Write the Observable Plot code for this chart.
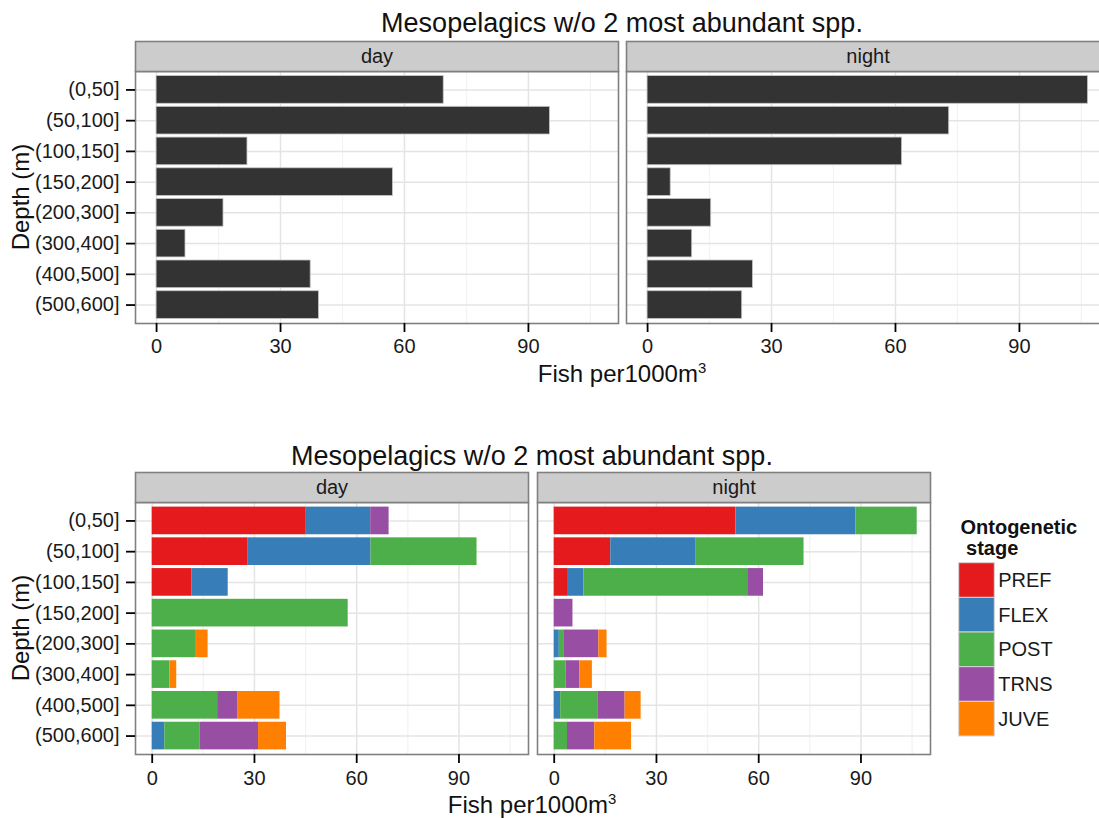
<!DOCTYPE html>
<html>
<head>
<meta charset="utf-8">
<script src="https://cdn.jsdelivr.net/npm/d3@7"></script>
<script src="https://cdn.jsdelivr.net/npm/@observablehq/plot@0.6"></script>
<style>
  html, body { margin: 0; padding: 0; background: #fff; overflow: hidden; }
  #root { position: relative; width: 1099px; height: 818px; overflow: hidden; background: #fff;
          font-family: "Liberation Sans", Arial, sans-serif; color: #111; }
  #root > svg, #root > div { position: absolute; }
  #root > svg { max-width: none !important; }
  .title { font-size: 27px; line-height: 1; white-space: nowrap; transform: translateX(-50%); }
  .xtitle { font-size: 24px; line-height: 1; white-space: nowrap; transform: translateX(-50%); }
  .xtitle sup { font-size: 0.62em; vertical-align: 0.6em; line-height: 0; }
  .ytitle { font-size: 24px; line-height: 1; white-space: nowrap; transform: translate(-50%, -50%) rotate(-90deg); }
</style>
</head>
<body>
<div id="root"></div>
<script>
// Depth bins, day/night periods and ontogenetic stages
const depths = ["(0,50]", "(50,100]", "(100,150]", "(150,200]", "(200,300]", "(300,400]", "(400,500]", "(500,600]"];
const periods = ["day", "night"];
const stages = ["PREF", "FLEX", "POST", "TRNS", "JUVE"];
const stageColors = ["#E41A1C", "#377EB8", "#4DAF4A", "#984EA3", "#FF7F00"];

// Total fish per 1000 m^3 by depth bin
const totalDay   = [69.5, 95.2, 22.0, 57.2, 16.2, 7.0, 37.3, 39.3];
const totalNight = [106.6, 73.0, 61.6, 5.6, 15.4, 10.8, 25.5, 22.9];

// Fish per 1000 m^3 by stage (one value per depth bin), day
const dayPREF = [45.2, 28.0, 11.6, 0, 0, 0, 0, 0];
const dayFLEX = [18.9, 36.2, 10.7, 0, 0, 0, 0, 3.7];
const dayPOST = [0, 31.1, 0, 57.5, 12.7, 5.2, 19.2, 10.4];
const dayTRNS = [5.4, 0, 0, 0, 0, 0, 6.0, 17.1];
const dayJUVE = [0, 0, 0, 0, 3.7, 2.0, 12.3, 8.2];

// Fish per 1000 m^3 by stage, night
const nightPREF = [53.3, 16.6, 3.9, 0, 0, 0, 0, 0];
const nightFLEX = [35.2, 24.9, 4.8, 0, 1.5, 0, 1.9, 0];
const nightPOST = [18.0, 31.8, 48.3, 0, 1.5, 3.5, 10.9, 3.9];
const nightTRNS = [0, 0, 4.4, 5.5, 10.1, 4.0, 8.0, 8.0];
const nightJUVE = [0, 0, 0, 0, 2.4, 3.7, 4.7, 10.8];

const majorTicks = [0, 30, 60, 90];
const minorTicks = [15, 45, 75, 105];

// Long-format tables for Plot
const totals = [
  ...depths.map((depth, i) => ({period: "day", depth, value: totalDay[i]})),
  ...depths.map((depth, i) => ({period: "night", depth, value: totalNight[i]}))
];
const byStage = {
  day:   [dayPREF, dayFLEX, dayPOST, dayTRNS, dayJUVE],
  night: [nightPREF, nightFLEX, nightPOST, nightTRNS, nightJUVE]
};
const stageRows = periods.flatMap(period =>
  stages.flatMap((stage, s) =>
    depths.map((depth, i) => ({period, depth, stage, value: byStage[period][s][i]}))
  )
).filter(d => d.value > 0);

const font = "'Liberation Sans', Arial, sans-serif";

// One faceted day/night panel pair in ggplot-like styling
function panels({width, height, marginLeft, marginRight, marginTop, marginBottom, gap, xDomain, tickPadding, barMarks}) {
  const panelH = height - marginTop - marginBottom;
  const step = (width - marginLeft - marginRight + gap) / 2;
  return Plot.plot({
    width, height, marginLeft, marginRight, marginTop, marginBottom,
    style: {fontFamily: font, fontSize: "20px", color: "#1a1a1a", background: "transparent", overflow: "visible"},
    fx: {domain: periods, paddingInner: gap / step, paddingOuter: 0, round: false, axis: null, label: null},
    x: {domain: xDomain, label: null},
    y: {domain: depths, paddingInner: 0.1, paddingOuter: 0.15, round: false, label: null},
    color: {domain: stages, range: stageColors},
    marks: [
      Plot.frame({fill: "white"}),
      Plot.gridX({ticks: minorTicks, stroke: "#f3f3f3", strokeOpacity: 1, strokeWidth: 1.3}),
      Plot.gridX({ticks: majorTicks, stroke: "#e4e4e4", strokeOpacity: 1, strokeWidth: 1.5}),
      Plot.gridY({stroke: "#e4e4e4", strokeOpacity: 1, strokeWidth: 1.5}),
      ...barMarks,
      Plot.frame({stroke: "#808080", strokeWidth: 1.6}),
      // facet strip
      Plot.frame({insetTop: -30, insetBottom: panelH, fill: "#cccccc", stroke: "#808080", strokeWidth: 1.6}),
      Plot.text(periods, {fx: d => d, text: d => d, frameAnchor: "top", lineAnchor: "middle", dy: -15, fontSize: 20, fill: "#1a1a1a"}),
      Plot.axisX({ticks: majorTicks, tickSize: 9, tickPadding, stroke: "#000", strokeWidth: 1.8, fill: "#1a1a1a", fontSize: 20, label: null}),
      Plot.axisY({tickSize: 9, tickPadding: 7, stroke: "#000", strokeWidth: 1.8, fill: "#1a1a1a", fontSize: 20, label: null})
    ]
  });
}

const root = document.getElementById("root");

function addText(cls, html, left, top) {
  const el = document.createElement("div");
  el.className = cls;
  el.innerHTML = html;
  el.style.left = left + "px";
  el.style.top = top + "px";
  root.appendChild(el);
}

// Top: totals
const chart1 = panels({
  width: 1110, height: 400, marginLeft: 135, marginRight: 1, marginTop: 71, marginBottom: 77, gap: 8,
  xDomain: [-5.1, 111.8], tickPadding: 6,
  barMarks: [Plot.barX(totals, {fx: "period", y: "depth", x: "value", fill: "#333333", stroke: "#c4c4c4", strokeWidth: 0.8})]
});
chart1.style.left = "0px"; chart1.style.top = "0px";
root.appendChild(chart1);

// Bottom: stacked by ontogenetic stage
const chart2 = panels({
  width: 931, height: 418, marginLeft: 135, marginRight: 1, marginTop: 102, marginBottom: 64, gap: 9,
  xDomain: [-4.9, 110.4], tickPadding: 7,
  barMarks: [Plot.barX(stageRows, Plot.stackX({fx: "period", y: "depth", x: "value", z: "stage", fill: "stage"}))]
});
chart2.style.left = "0px"; chart2.style.top = "400px";
root.appendChild(chart2);

// Stage legend
const legend = Plot.plot({
  width: 159, height: 250, margin: 0,
  style: {fontFamily: font, fontSize: "20px", color: "#1a1a1a", background: "transparent", overflow: "visible"},
  x: {type: "band", domain: ["key"], range: [18.7, 54.3], padding: 0, round: false, axis: null},
  y: {type: "band", domain: stages, range: [62.7, 236], padding: 0, round: false, axis: null},
  color: {domain: stages, range: stageColors},
  marks: [
    Plot.text(["Ontogenetic\n\u00a0stage"], {frameAnchor: "top-left", dx: 20, dy: 18.8, lineAnchor: "top", lineHeight: 1.05, textAnchor: "start", fontWeight: "bold", fontSize: 20, fill: "#111"}),
    Plot.cell(stages, {x: () => "key", y: d => d, fill: d => d, stroke: "#d4d4d4", strokeWidth: 1}),
    Plot.text(stages, {x: () => "key", y: d => d, text: d => d, dx: 21.2, textAnchor: "start", fontSize: 20, fill: "#1a1a1a"})
  ]
});
legend.style.left = "940px"; legend.style.top = "500px";
root.appendChild(legend);

// Titles and axis titles
addText("title", "Mesopelagics w/o 2 most abundant spp.", 622, 10);
addText("xtitle", "Fish per1000m<sup>3</sup>", 622, 362);
addText("ytitle", "Depth (m)", 21, 197);
addText("title", "Mesopelagics w/o 2 most abundant spp.", 532, 443);
addText("xtitle", "Fish per1000m<sup>3</sup>", 532, 793);
addText("ytitle", "Depth (m)", 21, 628);
</script>
</body>
</html>
